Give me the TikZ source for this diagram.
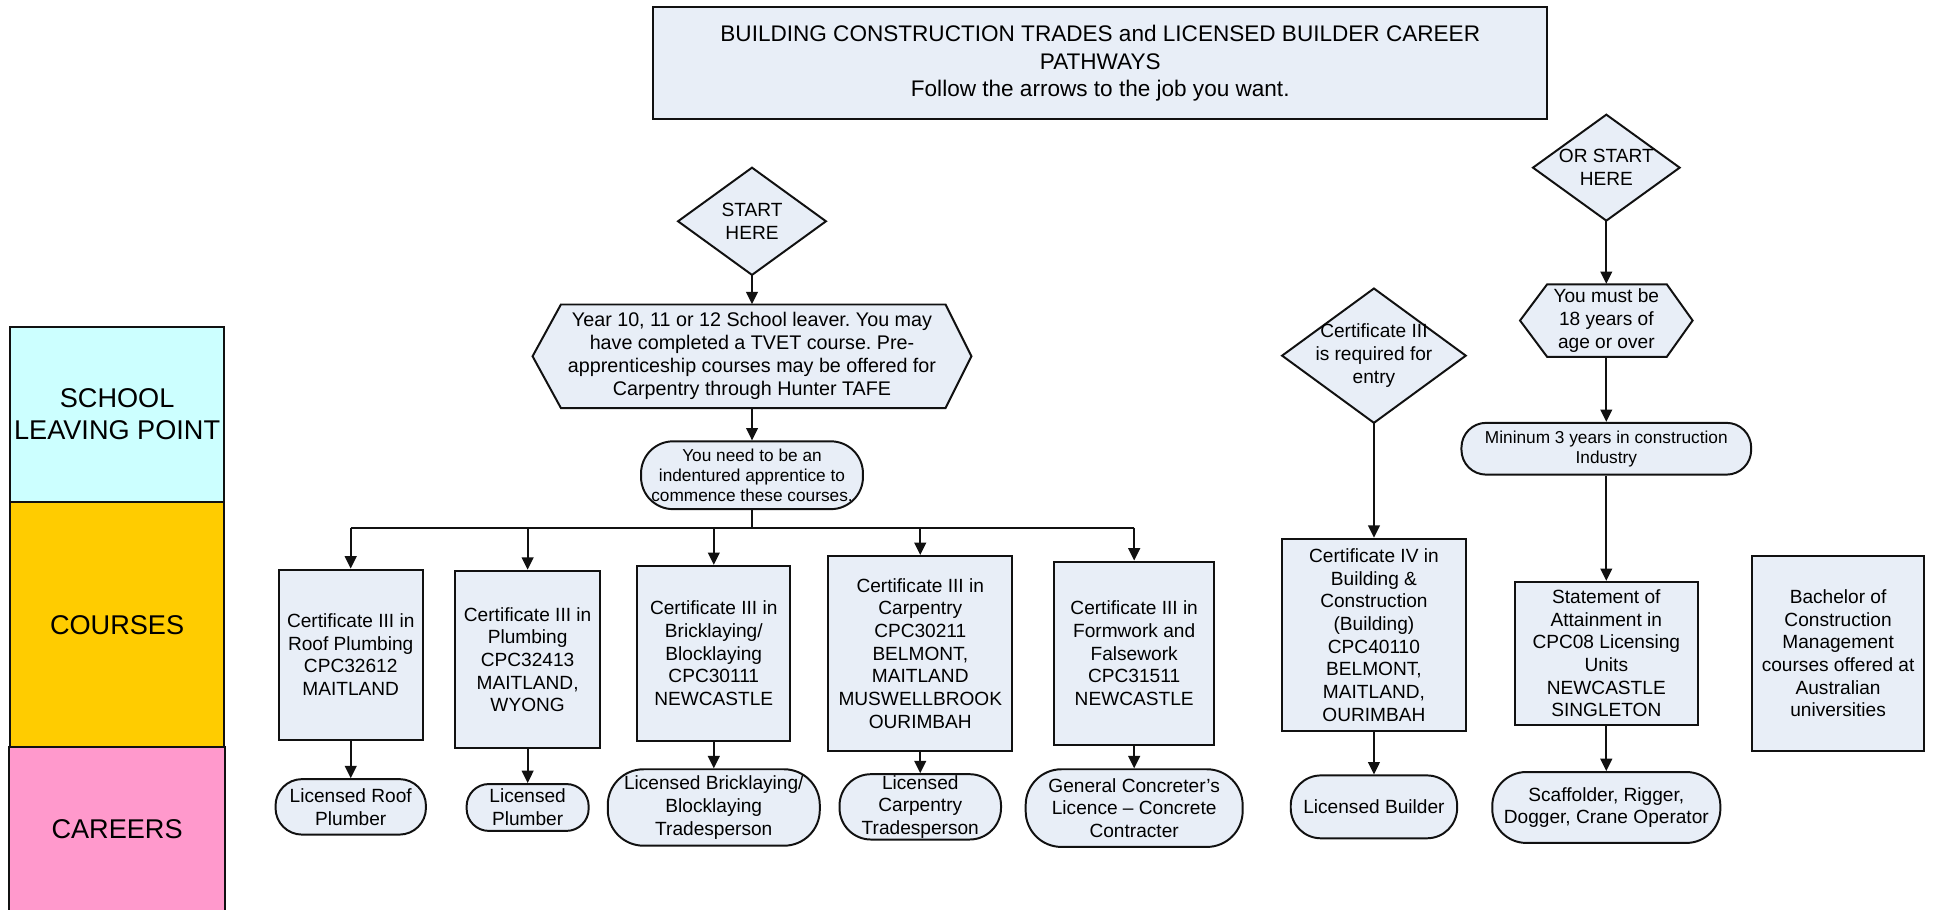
\documentclass[tikz,border=0pt]{standalone}
\usepackage{fontspec}
\setmainfont{Liberation Sans}
\frenchspacing
\usetikzlibrary{shapes.geometric,arrows.meta}
\definecolor{boxfill}{HTML}{E8EEF7}
\definecolor{bandcyan}{HTML}{CCFFFF}
\definecolor{bandgold}{HTML}{FFCC00}
\definecolor{bandpink}{HTML}{FF99CC}
\definecolor{edge}{HTML}{111111}
\begin{document}
\begin{tikzpicture}[x=1pt,y=-1pt,
 base/.style={draw=edge, fill=boxfill, line width=1.6pt, inner sep=0pt, align=center, font=\fontsize{15.5}{18.4}\selectfont},
 box/.style={base, rectangle},
 rbox/.style={base, rectangle, rounded corners=18pt},
 shapepath/.style={draw=edge, fill=boxfill, line width=1.6pt},
 txt/.style={inner sep=0pt, align=center, font=\fontsize{15.5}{18.4}\selectfont},
 band/.style={draw=edge, line width=1.6pt, inner sep=0pt, align=center, minimum width=174, font=\fontsize{22}{26}\selectfont},
 arr/.style={draw=edge, line width=1.5pt, -{Triangle[length=10pt,width=9.5pt]}},
 link/.style={draw=edge, line width=1.5pt}]
\useasboundingbox (0,0) rectangle (1568,738);

% title
\node[box, minimum width=725, minimum height=90.5, font=\fontsize{18.3}{22.5}\selectfont] (title) at (892.5,51.25)
 {BUILDING CONSTRUCTION TRADES and LICENSED BUILDER CAREER\\PATHWAYS\\Follow the arrows to the job you want.};

% bands
\node[band, fill=bandcyan, minimum height=142] (school) at (95,336) {SCHOOL\\LEAVING POINT};
\node[band, fill=bandgold, minimum height=200] (courses) at (95,507) {COURSES};
\node[band, fill=bandpink, draw=none, minimum height=131] (careers) at (95,672.5) {CAREERS};
\draw[draw=edge, line width=1.6pt] (careers.south west) -- (careers.north west) -- (careers.north east) -- (careers.south east);

% left flow
\path[shapepath] (550,179.5) -- (610,136) -- (670,179.5) -- (610,223) -- cycle;
\node[txt, minimum width=120, minimum height=87] (start) at (610,179.5) {START\\HERE};
\path[shapepath] (432,289) -- (455,247) -- (767,247) -- (788,289) -- (767,331) -- (455,331) -- cycle;
\node[txt, minimum width=356, minimum height=84, font=\fontsize{16}{18.6}\selectfont] (leaver) at (610,289)
 {Year 10, 11 or 12 School leaver. You may\\have completed a TVET course. Pre-\\apprenticeship courses may be offered for\\Carpentry through Hunter TAFE};
\node[rbox, rounded corners=26pt, minimum width=180, minimum height=55, font=\fontsize{14}{16.4}\selectfont] (appr) at (610,385.5)
 {You need to be an\\indentured apprentice to\\commence these courses.};
\coordinate (bus) at (610,428);

% courses
\node[box, minimum width=117, minimum height=138] (c1) at (284.5,531) {Certificate III in\\Roof Plumbing\\CPC32612\\MAITLAND};
\node[box, minimum width=118, minimum height=144] (c2) at (428,535) {Certificate III in\\Plumbing\\CPC32413\\MAITLAND,\\WYONG};
\node[box, minimum width=124, minimum height=142] (c3) at (579,530) {Certificate III in\\Bricklaying/\\Blocklaying\\CPC30111\\NEWCASTLE};
\node[box, minimum width=149, minimum height=158] (c4) at (746.5,530) {Certificate III in\\Carpentry\\CPC30211\\BELMONT,\\MAITLAND\\MUSWELLBROOK\\OURIMBAH};
\node[box, minimum width=130, minimum height=149] (c5) at (920,530) {Certificate III in\\Formwork and\\Falsework\\CPC31511\\NEWCASTLE};
\node[box, minimum width=149, minimum height=156] (c6) at (1114.5,515) {Certificate IV in\\Building \&\\Construction\\(Building)\\CPC40110\\BELMONT,\\MAITLAND,\\OURIMBAH};
\node[box, minimum width=148, minimum height=116] (c7) at (1303,530) {Statement of\\Attainment in\\CPC08 Licensing\\Units\\NEWCASTLE\\SINGLETON};
\node[box, minimum width=140, minimum height=158] (c8) at (1491,530) {Bachelor of\\Construction\\Management\\courses offered at\\Australian\\universities};

% careers
\node[rbox, rounded corners=21.5pt, minimum width=122, minimum height=45] (r1) at (284.5,654.5) {Licensed Roof\\Plumber};
\node[rbox, rounded corners=18pt, minimum width=99, minimum height=38] (r2) at (428,655) {Licensed\\Plumber};
\node[rbox, rounded corners=29pt, minimum width=172, minimum height=62] (r3) at (579,655) {Licensed Bricklaying/\\Blocklaying\\Tradesperson};
\node[rbox, rounded corners=25.5pt, minimum width=131, minimum height=53] (r4) at (746.5,654.5) {Licensed\\Carpentry\\Tradesperson};
\node[rbox, rounded corners=29pt, minimum width=176, minimum height=63] (r5) at (920,655.5) {General Concreter’s\\Licence – Concrete\\Contracter};
\node[rbox, rounded corners=24.5pt, minimum width=135, minimum height=51] (r6) at (1114.5,654.5) {Licensed Builder};
\node[rbox, rounded corners=27.5pt, minimum width=185, minimum height=57.5] (r7) at (1303,655) {Scaffolder, Rigger,\\Dogger, Crane Operator};

% right flow
\path[shapepath] (1040,288.5) -- (1114.5,234) -- (1189,288.5) -- (1114.5,343) -- cycle;
\node[txt, minimum width=149, minimum height=109] (cert3) at (1114.5,288.5) {Certificate III\\is required for\\entry};
\path[shapepath] (1243.5,136) -- (1303,93) -- (1362.5,136) -- (1303,179) -- cycle;
\node[txt, minimum width=119, minimum height=86] (orstart) at (1303,136) {OR START\\HERE};
\path[shapepath] (1233,260) -- (1255,230.6) -- (1352,230.6) -- (1373,260) -- (1352,289.5) -- (1255,289.5) -- cycle;
\node[txt, minimum width=140, minimum height=59] (age) at (1303,260)
 {You must be\\18 years of\\age or over};
\node[rbox, rounded corners=20pt, minimum width=235, minimum height=42, font=\fontsize{14}{16.2}\selectfont] (mini) at (1303,364)
 {Mininum 3 years in construction\\Industry};

% connectors
\draw[arr] (start.south) -- (leaver.north);
\draw[arr] (leaver.south) -- (appr.north);
\draw[link] (appr.south) -- (bus);
\draw[link] (c1.north |- bus) -- (c5.north |- bus);
\foreach \c in {c1,c2,c3,c4,c5} {
  \draw[arr] (\c.north |- bus) -- (\c.north);
}
\foreach \c/\r in {c1/r1,c2/r2,c3/r3,c4/r4,c5/r5,c6/r6,c7/r7} {
  \draw[arr] (\c.south) -- (\c.south |- \r.north);
}
\draw[arr] (cert3.south) -- (c6.north);
\draw[arr] (orstart.south) -- (age.north);
\draw[arr] (age.south) -- (mini.north);
\draw[arr] (mini.south) -- (c7.north);
\end{tikzpicture}
\end{document}
